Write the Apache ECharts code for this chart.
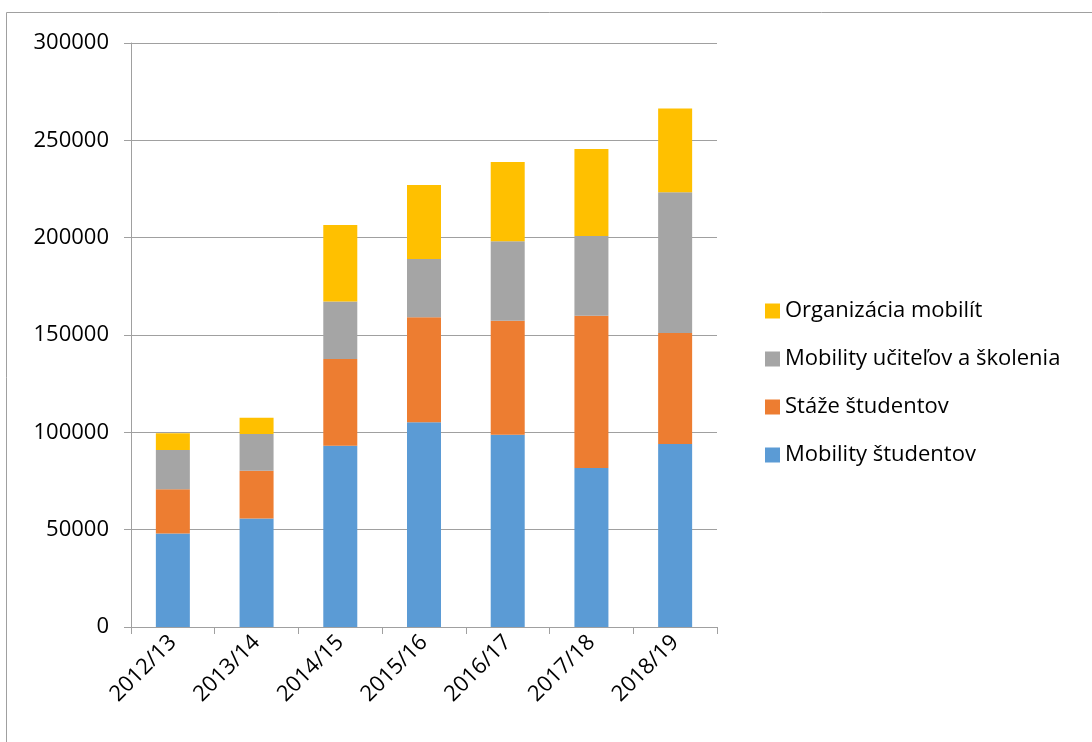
<!DOCTYPE html>
<html>
<head>
<meta charset="utf-8">
<script src="https://cdn.jsdelivr.net/npm/echarts@6/dist/echarts.min.js"></script>
<style>html,body{margin:0;padding:0;background:#fff;}#c{width:1092px;height:742px;}</style>
</head>
<body>
<div id="c"></div>
<script>
const categories = ['2012/13','2013/14','2014/15','2015/16','2016/17','2017/18','2018/19'];
const seriesNames = ['Mobility študentov','Stáže študentov','Mobility učiteľov a školenia','Organizácia mobilít'];
const mobilityStudentov = [48000, 55800, 93100, 105200, 98800, 81700, 94000];
const stazeStudentov = [22700, 24500, 44600, 53900, 58500, 78200, 57000];
const mobilityUcitelov = [20200, 18800, 29500, 29900, 40900, 40900, 72300];
const organizaciaMobilit = [8600, 8400, 39300, 38000, 40700, 44700, 43000];
const colors = ['#5B9BD5','#ED7D31','#A5A5A5','#FFC000'];
const values = [mobilityStudentov, stazeStudentov, mobilityUcitelov, organizaciaMobilit];

const font = 'Open Sans, Noto Sans, sans-serif';
const chart = echarts.init(document.getElementById('c'));
chart.setOption({
  animation: false,
  graphic: [{type:'rect', shape:{x:6.5,y:12.5,width:1100,height:740}, style:{fill:'none',stroke:'#a0a0a0',lineWidth:1}, silent:true}],
  grid: {left:131, right:375, top:43, bottom:115, containLabel:false},
  legend: {
    orient:'vertical', left:760, top:291, itemWidth:15, itemHeight:15, itemGap:18,
    data: seriesNames.slice().reverse(),
    textStyle:{fontSize:22, lineHeight:30, color:'#000', fontFamily:font},
    icon:'rect'
  },
  xAxis: {
    type:'category', data:categories,
    axisLine:{lineStyle:{color:'#a0a0a0'}},
    axisTick:{show:true, length:7, lineStyle:{color:'#a0a0a0'}},
    axisLabel:{rotate:45, fontSize:22, color:'#000', fontFamily:font, margin:12, interval:0}
  },
  yAxis: {
    type:'value', min:0, max:300000, interval:50000,
    axisLine:{show:true, lineStyle:{color:'#a0a0a0'}},
    axisTick:{show:true, length:7, lineStyle:{color:'#a0a0a0'}},
    splitLine:{lineStyle:{color:'#a0a0a0'}},
    axisLabel:{fontSize:22, color:'#000', fontFamily:font, margin:22, formatter:(v)=>String(v)}
  },
  series: seriesNames.map((n,i)=>({
    name:n, type:'bar', stack:'total', data:values[i], barWidth:34,
    itemStyle:{color:colors[i]}
  }))
});
</script>
</body>
</html>
